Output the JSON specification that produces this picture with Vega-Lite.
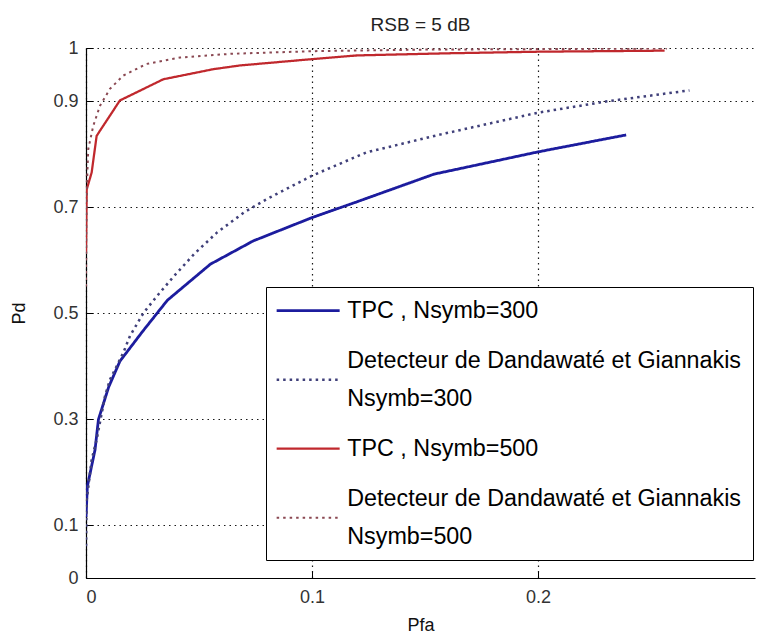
{
  "$schema": "https://vega.github.io/schema/vega-lite/v6.json",
  "width": 669,
  "height": 530,
  "autosize": {"type": "none"},
  "padding": {"left": 86, "top": 48, "right": 2, "bottom": 59},
  "background": "white",
  "title": {"text": "RSB = 5 dB", "font": "Liberation Sans", "fontSize": 19, "fontWeight": "normal", "color": "#222", "offset": 4, "anchor": "middle"},
  "config": {
    "view": {"stroke": null},
    "axis": {
      "domainColor": "#000", "domainWidth": 1.2,
      "tickColor": "#000", "tickSize": -7, "tickWidth": 1,
      "labelFont": "Liberation Sans", "labelFontSize": 18, "labelColor": "#333",
      "titleFont": "Liberation Sans", "titleFontSize": 18, "titleFontWeight": "normal", "titleColor": "#111",
      "grid": true, "gridColor": "#000", "gridDash": [1.5, 4], "gridWidth": 1.2, "gridOpacity": 0.9
    }
  },
  "data": {"values": [
    {"s": "a", "x": 0, "y": 0.115},
    {"s": "a", "x": 0.0006, "y": 0.173},
    {"s": "a", "x": 0.004, "y": 0.242},
    {"s": "a", "x": 0.005, "y": 0.28},
    {"s": "a", "x": 0.0055, "y": 0.299},
    {"s": "a", "x": 0.01, "y": 0.36},
    {"s": "a", "x": 0.015, "y": 0.409},
    {"s": "a", "x": 0.025, "y": 0.465},
    {"s": "a", "x": 0.036, "y": 0.524},
    {"s": "a", "x": 0.055, "y": 0.592},
    {"s": "a", "x": 0.074, "y": 0.636},
    {"s": "a", "x": 0.1, "y": 0.68},
    {"s": "a", "x": 0.12, "y": 0.71},
    {"s": "a", "x": 0.154, "y": 0.762},
    {"s": "a", "x": 0.2, "y": 0.804},
    {"s": "a", "x": 0.239, "y": 0.836},
    {"s": "b", "x": 0, "y": 0.06},
    {"s": "b", "x": 0.0003, "y": 0.147},
    {"s": "b", "x": 0.0025, "y": 0.223},
    {"s": "b", "x": 0.0047, "y": 0.261},
    {"s": "b", "x": 0.0084, "y": 0.343},
    {"s": "b", "x": 0.0106, "y": 0.374},
    {"s": "b", "x": 0.0165, "y": 0.425},
    {"s": "b", "x": 0.0195, "y": 0.457},
    {"s": "b", "x": 0.0254, "y": 0.5},
    {"s": "b", "x": 0.032, "y": 0.535},
    {"s": "b", "x": 0.039, "y": 0.57},
    {"s": "b", "x": 0.048, "y": 0.612},
    {"s": "b", "x": 0.058, "y": 0.652},
    {"s": "b", "x": 0.07, "y": 0.69},
    {"s": "b", "x": 0.08, "y": 0.715},
    {"s": "b", "x": 0.1, "y": 0.759},
    {"s": "b", "x": 0.124, "y": 0.803},
    {"s": "b", "x": 0.157, "y": 0.837},
    {"s": "b", "x": 0.2, "y": 0.878},
    {"s": "b", "x": 0.23, "y": 0.899},
    {"s": "b", "x": 0.267, "y": 0.92},
    {"s": "c", "x": 0, "y": 0.614},
    {"s": "c", "x": 0.0003, "y": 0.733},
    {"s": "c", "x": 0.0025, "y": 0.765},
    {"s": "c", "x": 0.0047, "y": 0.834},
    {"s": "c", "x": 0.0062, "y": 0.844},
    {"s": "c", "x": 0.015, "y": 0.901},
    {"s": "c", "x": 0.0342, "y": 0.941},
    {"s": "c", "x": 0.0563, "y": 0.96},
    {"s": "c", "x": 0.068, "y": 0.967},
    {"s": "c", "x": 0.1, "y": 0.979},
    {"s": "c", "x": 0.12, "y": 0.986},
    {"s": "c", "x": 0.16, "y": 0.99},
    {"s": "c", "x": 0.2, "y": 0.993},
    {"s": "c", "x": 0.256, "y": 0.995},
    {"s": "d", "x": 0, "y": 0.55},
    {"s": "d", "x": 0.0002, "y": 0.7},
    {"s": "d", "x": 0.0006, "y": 0.765},
    {"s": "d", "x": 0.001, "y": 0.809},
    {"s": "d", "x": 0.0032, "y": 0.853},
    {"s": "d", "x": 0.0062, "y": 0.891},
    {"s": "d", "x": 0.0106, "y": 0.923},
    {"s": "d", "x": 0.0165, "y": 0.948},
    {"s": "d", "x": 0.0268, "y": 0.97},
    {"s": "d", "x": 0.0416, "y": 0.982},
    {"s": "d", "x": 0.064, "y": 0.989},
    {"s": "d", "x": 0.1, "y": 0.994},
    {"s": "d", "x": 0.15, "y": 0.997},
    {"s": "d", "x": 0.257, "y": 0.999}
  ]},
  "mark": {"type": "line", "clip": true},
  "encoding": {
    "x": {
      "field": "x", "type": "quantitative",
      "scale": {"domain": [0, 0.296], "nice": false, "zero": false},
      "axis": {"values": [0, 0.1, 0.2], "format": "~g", "labelPadding": 17, "titlePadding": 10},
      "title": "Pfa"
    },
    "y": {
      "field": "y", "type": "quantitative",
      "scale": {"domain": [0, 1], "nice": false},
      "axis": {"values": [0, 0.1, 0.3, 0.5, 0.7, 0.9, 1], "format": "~g", "labelPadding": 15, "titlePadding": 24},
      "title": "Pd"
    },
    "color": {
      "field": "s", "type": "nominal",
      "scale": {"domain": ["a", "b", "c", "d"], "range": ["#1c1c9e", "#40407a", "#c0282d", "#8a4852"]},
      "legend": {
        "orient": "none", "legendX": 180, "legendY": 239,
        "title": null,
        "fillColor": "white", "strokeColor": "#000", "padding": 12,
        "symbolType": "M-2.6,0H10", "symbolSize": 100, "symbolStrokeWidth": 3,
        "labelFont": "Liberation Sans", "labelFontSize": 23.3, "labelColor": "#000",
        "labelOffset": 46, "labelLimit": 700, "rowPadding": 26,
        "labelExpr": "datum.label == 'a' ? 'TPC ,  Nsymb=300' : datum.label == 'b' ? ['Detecteur de Dandawaté et Giannakis', 'Nsymb=300'] : datum.label == 'c' ? 'TPC ,  Nsymb=500' : ['Detecteur de Dandawaté et Giannakis', ' Nsymb=500']",
        "encode": {"labels": {"update": {"lineHeight": {"value": 38}, "dy": {"signal": "datum.value == 'b' || datum.value == 'd' ? -19 : 0"}}}}
      }
    },
    "strokeDash": {
      "field": "s", "type": "nominal",
      "scale": {"domain": ["a", "b", "c", "d"], "range": [[1, 0], [2.5, 4], [1, 0], [2.5, 4]]}
    },
    "strokeWidth": {
      "field": "s", "type": "nominal",
      "scale": {"domain": ["a", "b", "c", "d"], "range": [2.8, 2, 2.8, 2]},
      "legend": null
    }
  }
}
